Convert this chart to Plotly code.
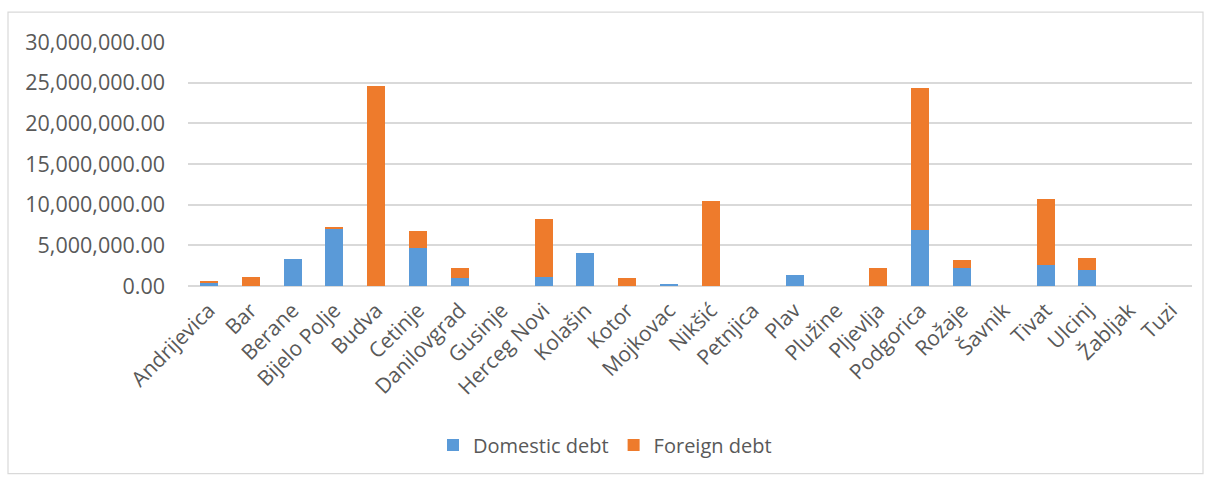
import plotly.graph_objects as go

categories = ["Andrijevica", "Bar", "Berane", "Bijelo Polje", "Budva", "Cetinje",
              "Danilovgrad", "Gusinje", "Herceg Novi", "Kolašin", "Kotor", "Mojkovac",
              "Nikšić", "Petnjica", "Plav", "Plužine", "Pljevlja", "Podgorica", "Rožaje",
              "Šavnik", "Tivat", "Ulcinj", "Žabljak", "Tuzi"]
domestic_debt = [400000, 50000, 3300000, 7030000, 30000, 4710000,
                 1020000, 0, 1100000, 4060000, 30000, 150000,
                 30000, 0, 1350000, 0, 20000, 6890000, 2250000,
                 0, 2580000, 2000000, 0, 0]
foreign_debt = [170000, 1050000, 0, 270000, 24570000, 2050000,
                1190000, 0, 7140000, 0, 950000, 0,
                10420000, 0, 0, 0, 2190000, 17460000, 950000,
                0, 8120000, 1440000, 0, 0]
y_ticks = [0, 5000000, 10000000, 15000000, 20000000, 25000000, 30000000]
y_tick_labels = ["0.00", "5,000,000.00", "10,000,000.00", "15,000,000.00",
                 "20,000,000.00", "25,000,000.00", "30,000,000.00"]

font_family = "Open Sans, Liberation Sans, sans-serif"
text_color = "#595959"

fig = go.Figure()
fig.add_trace(go.Bar(x=categories, y=domestic_debt, name="Domestic debt",
                     marker=dict(color="#5a9ad8", line=dict(width=0))))
fig.add_trace(go.Bar(x=categories, y=foreign_debt, name="Foreign debt",
                     marker=dict(color="#ee7b2c", line=dict(width=0))))

fig.update_layout(
    barmode="stack",
    bargap=0.57,
    width=1210, height=477,
    margin=dict(l=188, r=18, t=42, b=191),
    paper_bgcolor="white", plot_bgcolor="white",
    font=dict(family=font_family, size=20, color=text_color),
    legend=dict(orientation="h", xref="container", yref="container",
                x=0.5, xanchor="center", y=0.067, yanchor="middle",
                font=dict(size=20, color=text_color), traceorder="normal",
                itemwidth=30),
    yaxis=dict(range=[0, 30000000], tickvals=y_ticks, ticktext=y_tick_labels,
               showgrid=True, gridcolor="#d9d9d9", gridwidth=1.5,
               zeroline=True, zerolinecolor="#d9d9d9", zerolinewidth=1.5,
               showline=False, ticks="", tickfont=dict(size=21.5, color=text_color),
               ticklabelstandoff=22),
    xaxis=dict(tickangle=-45, showline=False, ticks="", showgrid=False,
               tickfont=dict(size=21, color=text_color), ticklabelstandoff=7),
    showlegend=True,
)

# chart border
fig.add_shape(type="rect", xref="paper", yref="paper",
              x0=-180/1004, x1=1+11/1004, y0=-188/244.5, y1=1+30/244.5,
              line=dict(color="#d9d9d9", width=1.2), fillcolor="rgba(0,0,0,0)",
              layer="below")

fig.write_html("out.html")
